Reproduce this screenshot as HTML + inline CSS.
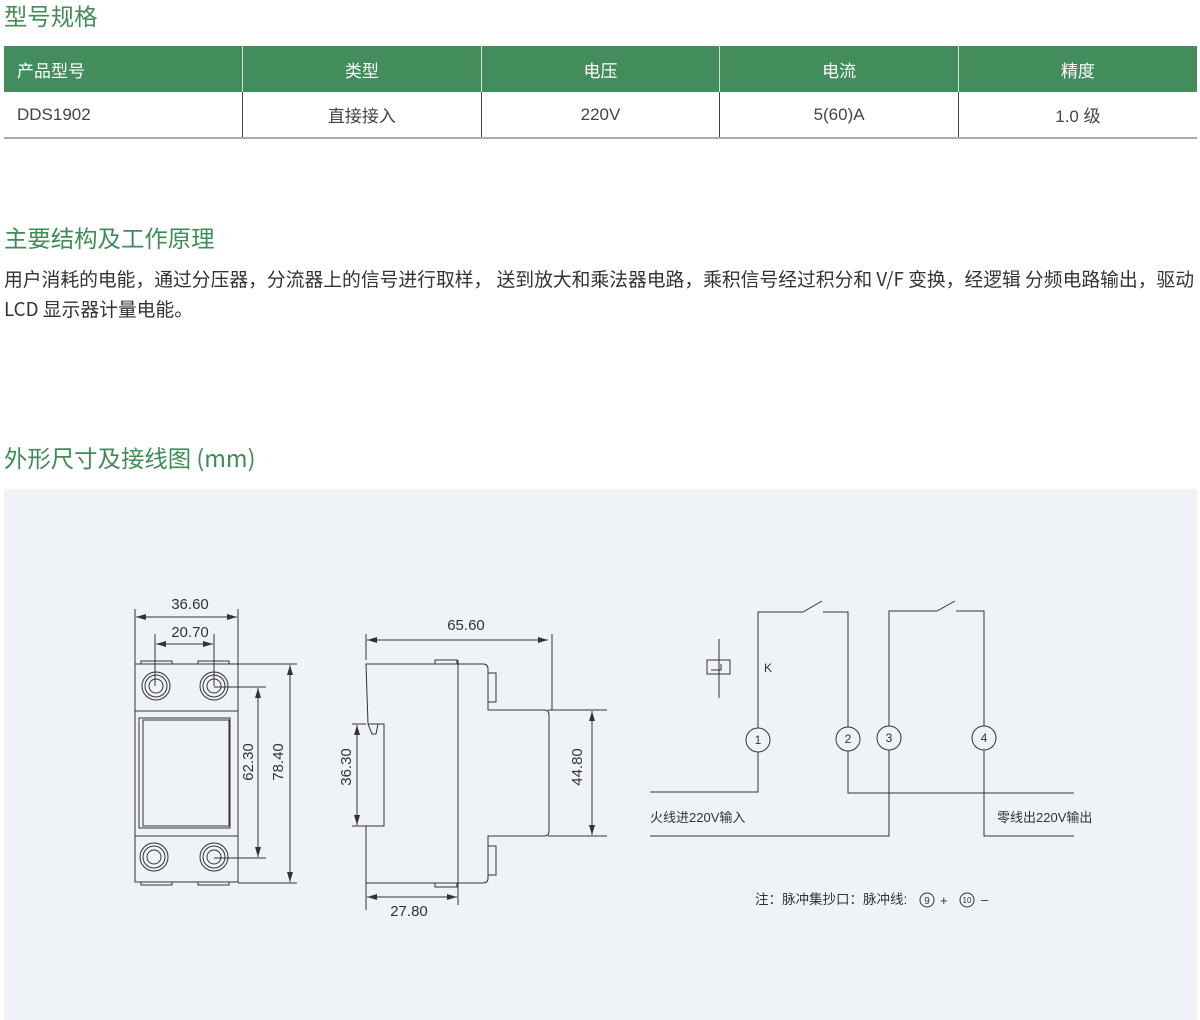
<!DOCTYPE html>
<html><head><meta charset="utf-8"><style>
*{margin:0;padding:0;box-sizing:border-box}
body{width:1200px;height:1020px;background:#fff;position:relative;overflow:hidden;font-family:"Liberation Sans","Noto Sans CJK SC",sans-serif;color:#333}
.h{position:absolute;left:4px;color:#3f8c58;font-size:23.4px;font-family:"Noto Sans CJK SC",sans-serif;line-height:30px}
table{position:absolute;left:4px;top:46px;width:1193px;border-collapse:collapse;font-size:17px;table-layout:fixed}
th{background:#428d5b;color:#fff;font-weight:normal;height:46px;border-left:1px solid #cfe0d4;text-align:center;font-family:"Liberation Sans","Noto Sans CJK SC",sans-serif}
td{height:46px;text-align:center;border-left:1px solid #444;border-bottom:2px solid #aaa;color:#444;vertical-align:middle}
th:first-child,td:first-child{text-align:left;padding-left:13px;border-left:none}
.p{position:absolute;left:4px;font-size:18.8px;font-family:"Noto Sans CJK SC",sans-serif;white-space:nowrap;color:#333;line-height:30px}
.panel{position:absolute;left:4px;top:489px;width:1193px;height:531px;background:#eff3f7}
svg{position:absolute;left:0;top:0}
svg text{font-family:"Liberation Sans","Noto Sans CJK SC",sans-serif;fill:#333}
</style></head><body>
<div class="h" style="top:0">型号规格</div>
<table><tr><th>产品型号</th><th>类型</th><th>电压</th><th>电流</th><th>精度</th></tr>
<tr><td>DDS1902</td><td>直接接入</td><td>220V</td><td>5(60)A</td><td>1.0 级</td></tr></table>
<div class="h" style="top:222px">主要结构及工作原理</div>
<div class="p" style="top:264px">用户消耗的电能，通过分压器，分流器上的信号进行取样， 送到放大和乘法器电路，乘积信号经过积分和 V/F 变换，经逻辑 分频电路输出，驱动</div>
<div class="p" style="top:294px">LCD 显示器计量电能。</div>
<div class="h" style="top:442px">外形尺寸及接线图 (mm)</div>
<div class="panel"></div>
<svg width="1200" height="1020" viewBox="0 0 1200 1020" fill="none" stroke="#333" stroke-width="1">
<defs><marker id="a" viewBox="0 0 10 6" refX="10" refY="3" markerWidth="10" markerHeight="6" orient="auto-start-reverse"><path d="M0,0L10,3L0,6z" fill="#333" stroke="none"/></marker></defs>
<rect x="135" y="664" width="103" height="218"/>
<path d="M141,664V661H172V664M198,664V661H229V664M141,882V885H172V882M198,882V885H229V882"/>
<line x1="135" y1="711" x2="238" y2="711"/><line x1="135" y1="836" x2="238" y2="836"/>
<rect x="139" y="718" width="91" height="110"/><rect x="143" y="720" width="86" height="106"/>
<g><circle cx="156" cy="686" r="14"/><circle cx="156" cy="686" r="11"/><circle cx="156" cy="686" r="7"/>
<circle cx="214" cy="686" r="14"/><circle cx="214" cy="686" r="11"/><circle cx="214" cy="686" r="7"/>
<circle cx="154" cy="857" r="14"/><circle cx="154" cy="857" r="11"/><circle cx="154" cy="857" r="7"/>
<circle cx="214" cy="857" r="14"/><circle cx="214" cy="857" r="11"/><circle cx="214" cy="857" r="7"/></g>
<line x1="135" y1="609" x2="135" y2="664"/><line x1="238" y1="609" x2="238" y2="664"/>
<line x1="136" y1="617" x2="237" y2="617" marker-start="url(#a)" marker-end="url(#a)"/>
<line x1="155" y1="634" x2="155" y2="686"/><line x1="214" y1="634" x2="214" y2="686"/>
<line x1="156" y1="644" x2="213" y2="644" marker-start="url(#a)" marker-end="url(#a)"/>
<line x1="214" y1="687" x2="266" y2="687"/><line x1="214" y1="858" x2="266" y2="858"/>
<line x1="258" y1="688" x2="258" y2="857" marker-start="url(#a)" marker-end="url(#a)"/>
<line x1="238" y1="664" x2="297" y2="664"/><line x1="238" y1="883" x2="297" y2="883"/>
<line x1="290" y1="665" x2="290" y2="882" marker-start="url(#a)" marker-end="url(#a)"/>
<path d="M368,724L366,664H483Q488,664 488,669V710H544Q549,710 549,715V831Q549,836 544,836H488V878Q488,883 483,883H366V826"/>
<path d="M435,664V660H457V664M435,883V887H457V883"/>
<line x1="458" y1="660" x2="458" y2="905"/>
<rect x="488" y="673" width="8" height="29"/><rect x="488" y="846" width="8" height="29"/>
<path d="M368,724H384V826H366"/><path d="M368,724L372,734H376L378,724"/>
<line x1="352" y1="724" x2="366" y2="724"/><line x1="352" y1="826" x2="366" y2="826"/>
<line x1="357" y1="725" x2="357" y2="825" marker-start="url(#a)" marker-end="url(#a)"/>
<line x1="366" y1="634" x2="366" y2="660"/><line x1="552" y1="634" x2="552" y2="710"/>
<line x1="367" y1="640" x2="548" y2="640" marker-start="url(#a)" marker-end="url(#a)"/>
<line x1="548" y1="710" x2="607" y2="710"/><line x1="548" y1="836" x2="607" y2="836"/>
<line x1="592" y1="711" x2="592" y2="835" marker-start="url(#a)" marker-end="url(#a)"/>
<line x1="366" y1="883" x2="366" y2="910"/>
<line x1="367" y1="897" x2="457" y2="897" marker-start="url(#a)" marker-end="url(#a)"/>
<path d="M758,728V612H803L822,601M823,612H848V727"/>
<path d="M889,726V611H937L955,601M956,611H984V726"/>
<path d="M758,752V792H650M848,751V793H1074M889,750V836H650M984,750V836H1074"/>
<circle cx="758" cy="740" r="12"/><circle cx="848" cy="739" r="12"/><circle cx="889" cy="738" r="12"/><circle cx="984" cy="738" r="12"/>
<line x1="719" y1="639" x2="719" y2="698"/><rect x="707" y="660" width="23" height="14"/>
<path d="M711,670H721V664"/>
<circle cx="927" cy="900" r="7"/><circle cx="967" cy="900" r="7"/>
<g stroke="none">
<text x="190" y="609" font-size="15" text-anchor="middle">36.60</text>
<text x="190" y="637" font-size="15" text-anchor="middle">20.70</text>
<text transform="translate(253,762) rotate(-90)" font-size="15" text-anchor="middle">62.30</text>
<text transform="translate(283,762) rotate(-90)" font-size="15" text-anchor="middle">78.40</text>
<text x="466" y="630" font-size="15" text-anchor="middle">65.60</text>
<text transform="translate(351,767) rotate(-90)" font-size="15" text-anchor="middle">36.30</text>
<text transform="translate(582,767) rotate(-90)" font-size="15" text-anchor="middle">44.80</text>
<text x="409" y="916" font-size="15" text-anchor="middle">27.80</text>
<text x="764" y="672" font-size="12">K</text>
<text x="758" y="744" font-size="12" text-anchor="middle">1</text>
<text x="848" y="743" font-size="12" text-anchor="middle">2</text>
<text x="889" y="742" font-size="12" text-anchor="middle">3</text>
<text x="984" y="742" font-size="12" text-anchor="middle">4</text>
<text x="650" y="822" font-size="13">火线进220V输入</text>
<text x="997" y="822" font-size="13">零线出220V输出</text>
<text x="755" y="904" font-size="13.5">注：脉冲集抄口：脉冲线:</text>
<text x="927" y="904" font-size="10" text-anchor="middle">9</text>
<text x="940" y="905" font-size="13">+</text>
<text x="967" y="903" font-size="8" text-anchor="middle">10</text>
<text x="981" y="904" font-size="13">–</text>
</g>
</svg>
</body></html>
